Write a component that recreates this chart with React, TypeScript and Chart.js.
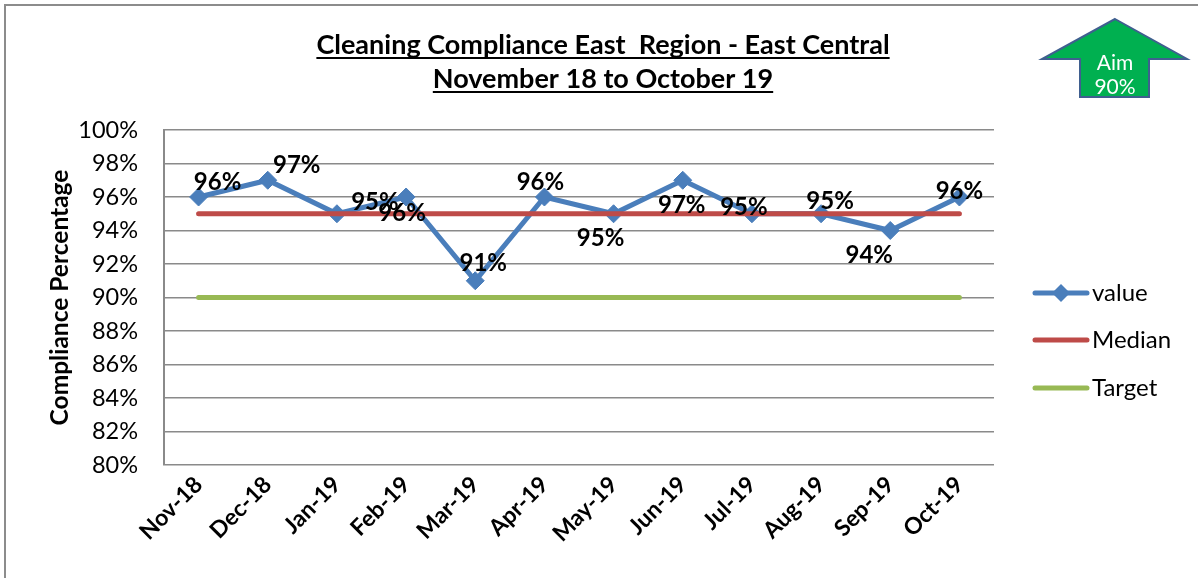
import React, { useEffect, useRef } from "react";
import { Chart, registerables } from "chart.js";

Chart.register(...registerables);

const months = ["Nov-18", "Dec-18", "Jan-19", "Feb-19", "Mar-19", "Apr-19", "May-19", "Jun-19", "Jul-19", "Aug-19", "Sep-19", "Oct-19"];
const values = [96, 97, 95, 96, 91, 96, 95, 97, 95, 95, 94, 96];
const medianValues = [95, 95, 95, 95, 95, 95, 95, 95, 95, 95, 95, 95];
const targetValues = [90, 90, 90, 90, 90, 90, 90, 90, 90, 90, 90, 90];
const yMin = 80;
const yMax = 100;
const yStep = 2;
const titleLines = ["Cleaning Compliance East  Region - East Central", "November 18 to October 19"];
const yTitle = "Compliance Percentage";
const seriesNames = ["value", "Median", "Target"];
const aimText = ["Aim", "90%"];

// label placement offsets (px) relative to each point
const labelOffsets: [number, number][] = [
  [19, -15], [29, -15], [38, -11], [-4, 16], [8, -17], [-4, -15],
  [-13, 25], [-1, 25], [-8, -6], [9, -12], [-21, 25], [0, -6],
];

const BLUE = "#4A7EBB";
const RED = "#BE4B48";
const GREEN = "#98B954";
const GRID = "#8a8a8a";
const FONT = "Lato, 'Open Sans', sans-serif";

const decorPlugin = {
  id: "decor",
  afterDatasetsDraw(chart: any) {
    const ctx = chart.ctx;
    const meta = chart.getDatasetMeta(0);
    ctx.save();
    ctx.font = `bold 24px ${FONT}`;
    ctx.fillStyle = "#000";
    ctx.textAlign = "center";
    ctx.textBaseline = "middle";
    meta.data.forEach((pt: any, i: number) => {
      const [dx, dy] = labelOffsets[i];
      ctx.fillText(values[i] + "%", pt.x + dx, pt.y + dy);
    });
    ctx.restore();
  },
  afterDraw(chart: any) {
    const ctx = chart.ctx;
    ctx.save();
    // outer border (top & left)
    ctx.strokeStyle = "#8c8c8c";
    ctx.lineWidth = 2;
    ctx.beginPath();
    ctx.moveTo(5, 578);
    ctx.lineTo(5, 5);
    ctx.lineTo(1198, 5);
    ctx.stroke();

    // title with underline
    ctx.font = `bold 27px ${FONT}`;
    ctx.fillStyle = "#000";
    ctx.textAlign = "center";
    ctx.textBaseline = "alphabetic";
    const cx = 603;
    const baselines = [54, 88];
    titleLines.forEach((t, i) => {
      ctx.fillText(t, cx, baselines[i]);
      const w = ctx.measureText(t).width;
      ctx.fillRect(cx - w / 2, baselines[i] + 3, w, 2);
    });

    // legend
    const legendY = [293, 340, 388];
    const colors = [BLUE, RED, GREEN];
    ctx.lineCap = "round";
    seriesNames.forEach((name, i) => {
      const y = legendY[i];
      ctx.strokeStyle = colors[i];
      ctx.lineWidth = 5;
      ctx.beginPath();
      ctx.moveTo(1035, y);
      ctx.lineTo(1087, y);
      ctx.stroke();
      if (i === 0) {
        ctx.fillStyle = BLUE;
        ctx.beginPath();
        ctx.moveTo(1061, y - 9);
        ctx.lineTo(1070, y);
        ctx.lineTo(1061, y + 9);
        ctx.lineTo(1052, y);
        ctx.closePath();
        ctx.fill();
      }
      ctx.fillStyle = "#000";
      ctx.font = `24px ${FONT}`;
      ctx.textAlign = "left";
      ctx.textBaseline = "middle";
      ctx.fillText(name, 1092, y);
    });

    // aim arrow
    ctx.beginPath();
    ctx.moveTo(1115, 19);
    ctx.lineTo(1187, 59);
    ctx.lineTo(1149, 59);
    ctx.lineTo(1149, 97);
    ctx.lineTo(1080, 97);
    ctx.lineTo(1080, 59);
    ctx.lineTo(1042, 59);
    ctx.closePath();
    ctx.fillStyle = "#00B050";
    ctx.fill();
    ctx.strokeStyle = "#3F5F8F";
    ctx.lineWidth = 2;
    ctx.lineJoin = "miter";
    ctx.stroke();
    ctx.fillStyle = "#fff";
    ctx.font = `21px ${FONT}`;
    ctx.textAlign = "center";
    ctx.textBaseline = "middle";
    ctx.fillText(aimText[0], 1115, 63);
    ctx.fillText(aimText[1], 1115, 87);
    ctx.restore();
  },
};

export default function App() {
  const ref = useRef<HTMLCanvasElement | null>(null);
  useEffect(() => {
    let chart: Chart | null = null;
    let cancelled = false;
    const make = () => {
      if (cancelled || !ref.current) return;
      chart = new Chart(ref.current, {
        type: "line",
        data: {
          labels: months,
          datasets: [
            {
              label: seriesNames[0],
              data: values,
              borderColor: BLUE,
              backgroundColor: BLUE,
              borderWidth: 5,
              pointStyle: "rectRot",
              pointRadius: 9,
              pointBorderWidth: 1,
              pointBackgroundColor: BLUE,
              pointBorderColor: BLUE,
              tension: 0,
              order: 2,
            },
            {
              label: seriesNames[1],
              data: medianValues,
              borderColor: RED,
              borderWidth: 5,
              borderCapStyle: "round",
              pointRadius: 0,
              order: 1,
            },
            {
              label: seriesNames[2],
              data: targetValues,
              borderColor: GREEN,
              borderWidth: 5,
              borderCapStyle: "round",
              pointRadius: 0,
              order: 1,
            },
          ],
        },
        options: {
          responsive: false,
          animation: false,
          layout: { padding: { top: 130, right: 204, left: 0, bottom: 0 } },
          plugins: { legend: { display: false }, tooltip: { enabled: false }, title: { display: false } },
          scales: {
            x: {
              offset: true,
              grid: { display: false, drawTicks: false },
              border: { display: false },
              ticks: {
                maxRotation: 45,
                minRotation: 45,
                autoSkip: false,
                color: "#000",
                padding: 6,
                font: { family: FONT, weight: "bold", size: 23 },
              },
              afterFit: (s: any) => { s.height = 113; },
            },
            y: {
              min: yMin,
              max: yMax,
              ticks: {
                stepSize: yStep,
                color: "#000",
                padding: 26,
                font: { family: FONT, size: 23.5 },
                callback: (v: any) => v + "%",
              },
              grid: { color: GRID, lineWidth: 1.5, drawTicks: false },
              border: { display: true, color: GRID, width: 2 },
              title: {
                display: true,
                text: yTitle,
                color: "#000",
                font: { family: FONT, weight: "bold", size: 24.5 },
                padding: { top: 45, bottom: 0 },
              },
              afterFit: (s: any) => { s.width = 164; },
            },
          },
        },
        plugins: [decorPlugin],
      } as any);
    };
    const fonts: any = (document as any).fonts;
    if (fonts && fonts.load) {
      Promise.all([
        fonts.load(`22px Lato`),
        fonts.load(`bold 22px Lato`),
      ]).then(make, make);
    } else {
      make();
    }
    return () => {
      cancelled = true;
      if (chart) chart.destroy();
    };
  }, []);
  return (
    <div style={{ position: "absolute", left: 0, top: 0, width: 1198, height: 578, background: "#fff" }}>
      <canvas ref={ref} width={1198} height={578} style={{ display: "block" }} />
    </div>
  );
}
